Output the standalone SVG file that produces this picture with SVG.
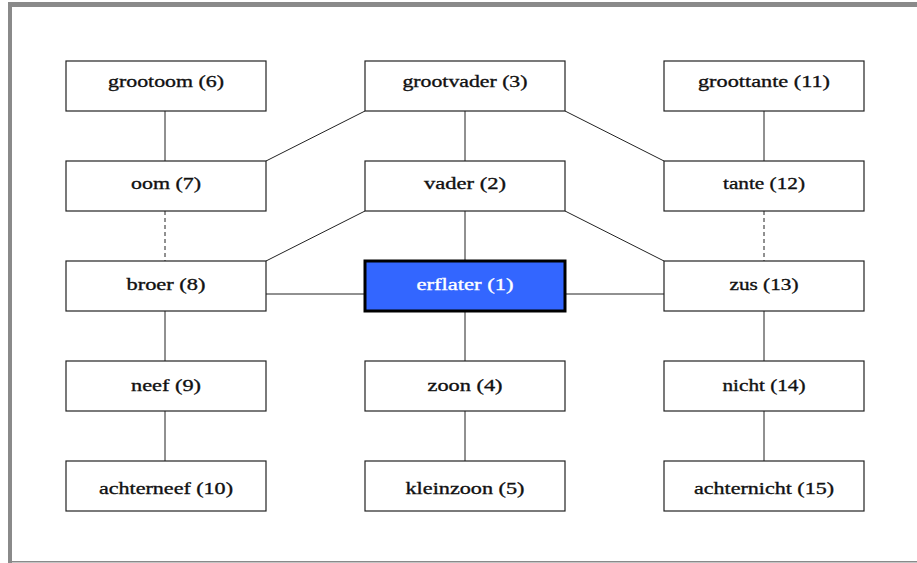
<svg xmlns="http://www.w3.org/2000/svg" width="917" height="563" viewBox="0 0 917 563">
<style>
.box{fill:#fff;stroke:#222;stroke-width:1.2}
.me{fill:#3366ff;stroke:#000;stroke-width:3}
.lbl{font-family:"Liberation Serif","Times New Roman",serif;font-size:17px;fill:#111;stroke:#111;stroke-width:0.35;text-anchor:middle}
.melbl{fill:#fff;stroke:#fff}
.ln{stroke:#222;stroke-width:1;fill:none}
.dash{stroke-dasharray:4 3}
.frame{fill:#8a8a8a}
</style>
<rect width="917" height="563" fill="#fff"/>
<rect class="frame" x="8" y="2" width="909" height="5"/>
<rect class="frame" x="8" y="2" width="4" height="561"/>
<rect class="frame" x="8" y="561" width="909" height="1.5"/>
<g id="connectors">
<line class="ln" x1="165" y1="111" x2="165" y2="161"/>
<line class="ln" x1="365" y1="111" x2="266" y2="161"/>
<line class="ln" x1="465" y1="111" x2="465" y2="161"/>
<line class="ln" x1="565" y1="111" x2="664" y2="161"/>
<line class="ln" x1="764" y1="111" x2="764" y2="161"/>
<line class="ln dash" x1="165" y1="211" x2="165" y2="261"/>
<line class="ln dash" x1="764" y1="211" x2="764" y2="261"/>
<line class="ln" x1="365" y1="211" x2="266" y2="261"/>
<line class="ln" x1="465" y1="211" x2="465" y2="261"/>
<line class="ln" x1="565" y1="211" x2="664" y2="261"/>
<line class="ln" x1="266" y1="294" x2="365" y2="294"/>
<line class="ln" x1="565" y1="294" x2="664" y2="294"/>
<line class="ln" x1="165" y1="311" x2="165" y2="361"/>
<line class="ln" x1="465" y1="311" x2="465" y2="361"/>
<line class="ln" x1="764" y1="311" x2="764" y2="361"/>
<line class="ln" x1="165" y1="411" x2="165" y2="461"/>
<line class="ln" x1="465" y1="411" x2="465" y2="461"/>
<line class="ln" x1="764" y1="411" x2="764" y2="461"/>
</g>
<g id="n6"><rect class="box" x="66" y="61" width="200" height="50"/><text class="lbl" x="166" y="87" textLength="116" lengthAdjust="spacingAndGlyphs">grootoom (6)</text></g>
<g id="n3"><rect class="box" x="365" y="61" width="200" height="50"/><text class="lbl" x="465" y="87" textLength="125" lengthAdjust="spacingAndGlyphs">grootvader (3)</text></g>
<g id="n11"><rect class="box" x="664" y="61" width="200" height="50"/><text class="lbl" x="764" y="87" textLength="132" lengthAdjust="spacingAndGlyphs">groottante (11)</text></g>
<g id="n7"><rect class="box" x="66" y="161" width="200" height="50"/><text class="lbl" x="166" y="189" textLength="70" lengthAdjust="spacingAndGlyphs">oom (7)</text></g>
<g id="n2"><rect class="box" x="365" y="161" width="200" height="50"/><text class="lbl" x="465" y="189" textLength="82" lengthAdjust="spacingAndGlyphs">vader (2)</text></g>
<g id="n12"><rect class="box" x="664" y="161" width="200" height="50"/><text class="lbl" x="764" y="189" textLength="82" lengthAdjust="spacingAndGlyphs">tante (12)</text></g>
<g id="n8"><rect class="box" x="66" y="261" width="200" height="50"/><text class="lbl" x="166" y="290" textLength="79" lengthAdjust="spacingAndGlyphs">broer (8)</text></g>
<g id="n1"><rect class="me" x="365" y="261" width="200" height="50"/><text class="lbl melbl" x="465" y="290" textLength="97" lengthAdjust="spacingAndGlyphs">erflater (1)</text></g>
<g id="n13"><rect class="box" x="664" y="261" width="200" height="50"/><text class="lbl" x="764" y="290" textLength="69" lengthAdjust="spacingAndGlyphs">zus (13)</text></g>
<g id="n9"><rect class="box" x="66" y="361" width="200" height="50"/><text class="lbl" x="166" y="391" textLength="70" lengthAdjust="spacingAndGlyphs">neef (9)</text></g>
<g id="n4"><rect class="box" x="365" y="361" width="200" height="50"/><text class="lbl" x="465" y="391" textLength="75" lengthAdjust="spacingAndGlyphs">zoon (4)</text></g>
<g id="n14"><rect class="box" x="664" y="361" width="200" height="50"/><text class="lbl" x="764" y="391" textLength="83" lengthAdjust="spacingAndGlyphs">nicht (14)</text></g>
<g id="n10"><rect class="box" x="66" y="461" width="200" height="50"/><text class="lbl" x="166" y="494" textLength="134" lengthAdjust="spacingAndGlyphs">achterneef (10)</text></g>
<g id="n5"><rect class="box" x="365" y="461" width="200" height="50"/><text class="lbl" x="465" y="494" textLength="119" lengthAdjust="spacingAndGlyphs">kleinzoon (5)</text></g>
<g id="n15"><rect class="box" x="664" y="461" width="200" height="50"/><text class="lbl" x="764" y="494" textLength="140" lengthAdjust="spacingAndGlyphs">achternicht (15)</text></g>
</svg>
